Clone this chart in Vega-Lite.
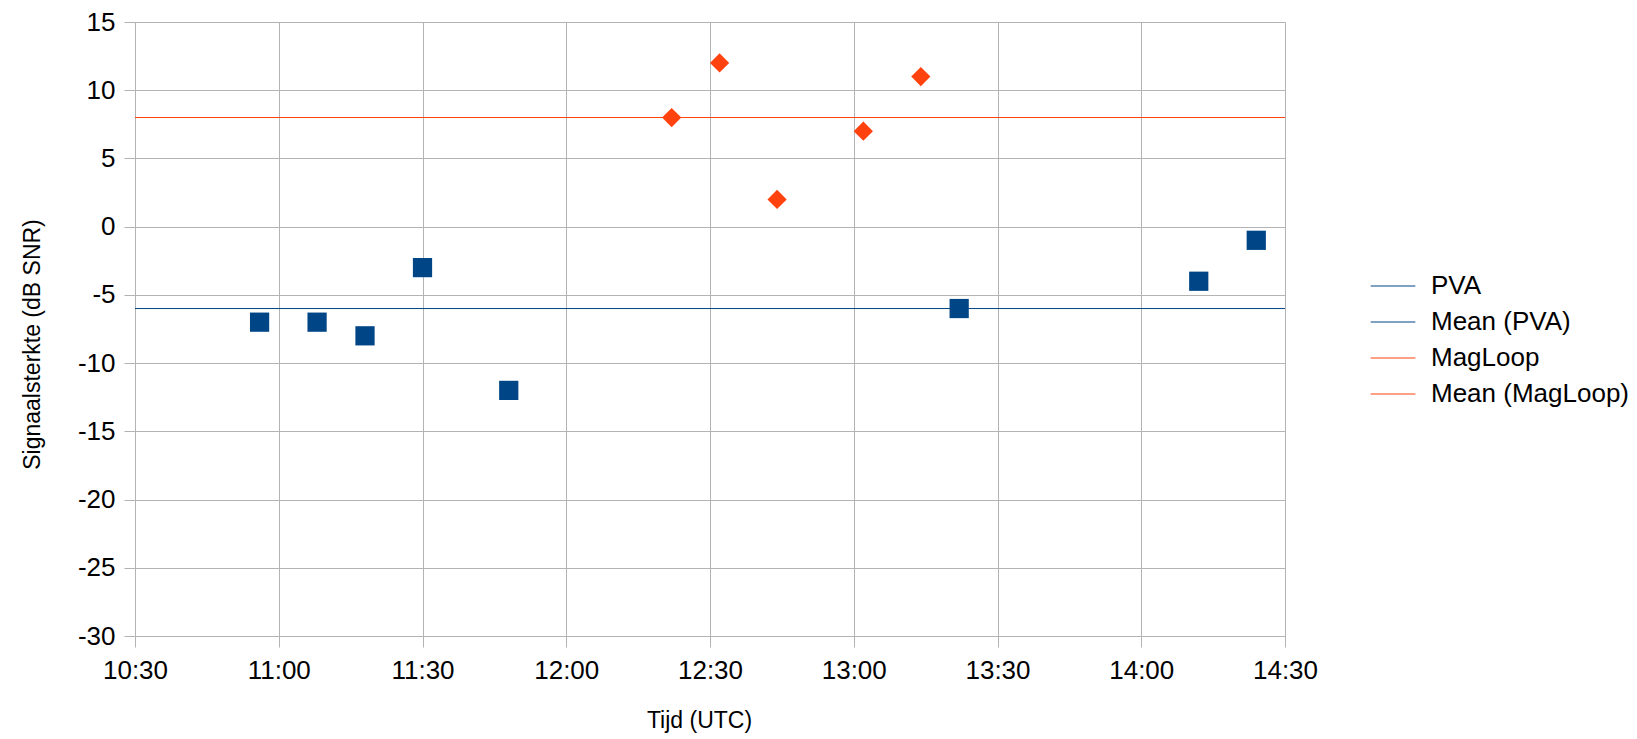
{
  "$schema": "https://vega.github.io/schema/vega-lite/v6.json",
  "width": 1150,
  "height": 614,
  "autosize": "none",
  "padding": {"left": 135, "top": 22, "right": 352, "bottom": 103},
  "background": "white",
  "config": {
    "font": "Liberation Sans",
    "view": {"stroke": null},
    "axis": {
      "labelFont": "Liberation Sans",
      "titleFont": "Liberation Sans",
      "labelFontSize": 26,
      "titleFontSize": 23,
      "titleFontWeight": "normal",
      "labelColor": "#000000",
      "titleColor": "#000000",
      "gridColor": "#b3b3b3",
      "gridOpacity": 1,
      "domainColor": "#b3b3b3",
      "tickColor": "#b3b3b3",
      "tickSize": 11,
      "labelFlush": false,
      "labelOverlap": false
    }
  },
  "data": {
    "values": [
      {"series": "PVA", "time": "2021-01-01T10:56:00", "snr": -7},
      {"series": "PVA", "time": "2021-01-01T11:08:00", "snr": -7},
      {"series": "PVA", "time": "2021-01-01T11:18:00", "snr": -8},
      {"series": "PVA", "time": "2021-01-01T11:30:00", "snr": -3},
      {"series": "PVA", "time": "2021-01-01T11:48:00", "snr": -12},
      {"series": "PVA", "time": "2021-01-01T13:22:00", "snr": -6},
      {"series": "PVA", "time": "2021-01-01T14:12:00", "snr": -4},
      {"series": "PVA", "time": "2021-01-01T14:24:00", "snr": -1},
      {"series": "MagLoop", "time": "2021-01-01T12:22:00", "snr": 8},
      {"series": "MagLoop", "time": "2021-01-01T12:32:00", "snr": 12},
      {"series": "MagLoop", "time": "2021-01-01T12:44:00", "snr": 2},
      {"series": "MagLoop", "time": "2021-01-01T13:02:00", "snr": 7},
      {"series": "MagLoop", "time": "2021-01-01T13:14:00", "snr": 11},
      {"series": "Mean (PVA)", "snr": -6},
      {"series": "Mean (MagLoop)", "snr": 8}
    ]
  },
  "layer": [
    {
      "transform": [{"filter": "indexof(datum.series, 'Mean') === 0"}],
      "mark": {"type": "rule", "strokeWidth": 1},
      "encoding": {
        "y": {"field": "snr", "type": "quantitative"},
        "color": {"field": "series", "type": "nominal"}
      }
    },
    {
      "transform": [{"filter": "indexof(datum.series, 'Mean') !== 0"}],
      "mark": {"type": "point", "filled": true, "opacity": 1, "size": 370, "strokeWidth": 0},
      "encoding": {
        "x": {
          "field": "time",
          "type": "temporal",
          "scale": {
            "domain": [
              {"year": 2021, "month": 1, "date": 1, "hours": 10, "minutes": 30},
              {"year": 2021, "month": 1, "date": 1, "hours": 14, "minutes": 30}
            ],
            "nice": false
          },
          "axis": {
            "title": "Tijd (UTC)",
            "format": "%H:%M",
            "values": [
              {"year": 2021, "month": 1, "date": 1, "hours": 10, "minutes": 30},
              {"year": 2021, "month": 1, "date": 1, "hours": 11, "minutes": 0},
              {"year": 2021, "month": 1, "date": 1, "hours": 11, "minutes": 30},
              {"year": 2021, "month": 1, "date": 1, "hours": 12, "minutes": 0},
              {"year": 2021, "month": 1, "date": 1, "hours": 12, "minutes": 30},
              {"year": 2021, "month": 1, "date": 1, "hours": 13, "minutes": 0},
              {"year": 2021, "month": 1, "date": 1, "hours": 13, "minutes": 30},
              {"year": 2021, "month": 1, "date": 1, "hours": 14, "minutes": 0},
              {"year": 2021, "month": 1, "date": 1, "hours": 14, "minutes": 30}
            ],
            "labelPadding": 10,
            "titlePadding": 26,
            "titleX": 564
          }
        },
        "y": {
          "field": "snr",
          "type": "quantitative",
          "scale": {"domain": [-30, 15], "nice": false, "zero": false},
          "axis": {
            "title": "Signaalsterkte (dB SNR)",
            "values": [-30, -25, -20, -15, -10, -5, 0, 5, 10, 15],
            "labelExpr": "'' + datum.value",
            "labelPadding": 9,
            "titlePadding": 33,
            "titleY": 322
          }
        },
        "color": {
          "field": "series",
          "type": "nominal",
          "scale": {
            "domain": ["PVA", "Mean (PVA)", "MagLoop", "Mean (MagLoop)"],
            "range": ["#004586", "#004586", "#ff420e", "#ff420e"]
          },
          "legend": {
            "title": null,
            "orient": "none",
            "legendX": 1235,
            "legendY": 241,
            "labelFont": "Liberation Sans",
            "labelFontSize": 26,
            "labelColor": "#000000",
            "labelLimit": 400,
            "labelOffset": 15,
            "rowPadding": 0,
            "symbolSize": 2000,
            "symbolType": "stroke",
            "symbolStrokeWidth": 1.2
          }
        },
        "shape": {
          "field": "series",
          "type": "nominal",
          "scale": {"domain": ["PVA", "MagLoop"], "range": ["square", "diamond"]},
          "legend": null
        }
      }
    }
  ]
}
